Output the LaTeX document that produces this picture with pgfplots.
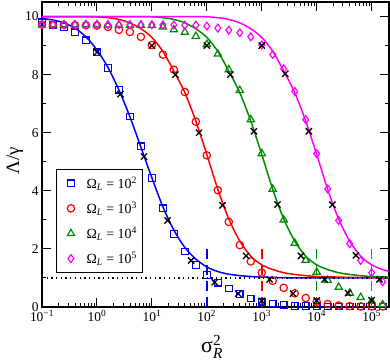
\documentclass[border=0pt]{standalone}
\usepackage{fontspec}
\setmainfont{Liberation Serif}
\usepackage{amsmath}
\usepackage{pgfplots}
\usepackage{pgfplotstable}
\pgfplotsset{compat=1.18}
\definecolor{cblue}{RGB}{0,0,255}
\definecolor{cred}{RGB}{255,0,0}
\definecolor{cgreen}{RGB}{0,140,0}
\definecolor{cmag}{RGB}{255,0,255}

% simulation points: sq = Omega_L 1e2, ci = 1e3, tr = 1e4, di = 1e5
\pgfplotstableread{
x       sq    ci    tr    di
0.1     9.80  9.72  9.72  9.72
0.1585  9.72  9.71  9.72  9.72
0.2512  9.64  9.71  9.72  9.72
0.3981  9.46  9.70  9.72  9.72
0.631   9.18  9.70  9.72  9.72
1       8.77  9.69  9.72  9.72
1.585   8.23  9.64  9.71  9.72
2.512   7.48  9.54  9.71  9.72
3.981   6.56  9.47  9.70  9.72
6.31    5.53  9.30  9.70  9.72
10      4.44  9.02  9.69  9.72
15.85   3.40  8.69  9.64  9.71
25.12   2.52  8.17  9.55  9.71
39.81   1.91  7.40  9.46  9.70
63.1    1.45  6.38  9.32  9.70
100     1.10  5.22  9.04  9.67
158.5   0.84  4.02  8.71  9.60
251.2   0.64  2.93  8.17  9.53
398.1   0.45  2.13  7.46  9.44
631     0.29  1.57  6.45  9.30
1000    0.18  1.18  5.28  9.02
1585    0.12  0.90  4.06  8.69
2512    0.07  0.66  3.00  8.20
3981    0.04  0.47  2.20  7.42
6310    0.03  0.31  1.61  6.45
10000   0.02  0.18  1.20  5.28
15850   0.02  0.10  0.92  4.06
25120   0.02  0.05  0.68  2.98
39810   0.02  0.03  0.48  2.18
63100   0.02  0.02  0.33  1.60
100000  0.02  0.02  0.20  1.18
158500  0.02  0.02  0.08  0.87
}\markers

% theory curves
\pgfplotstableread{
x       b     r     g     m
0.1     9.93  10.0  10.0  10.0
0.1585  9.88  10.0  10.0  10.0
0.2512  9.78  10.0  10.0  10.0
0.3981  9.60  10.0  10.0  10.0
0.631   9.30  10.0  10.0  10.0
1       8.85  9.99  10.0  10.0
1.585   8.25  9.96  10.0  10.0
2.512   7.47  9.90  10.0  10.0
3.981   6.55  9.78  10.0  10.0
6.31    5.50  9.58  10.0  10.0
10      4.45  9.28  9.99  10.0
15.85   3.45  8.80  9.96  10.0
25.12   2.65  8.12  9.90  10.0
39.81   2.05  7.38  9.78  10.0
63.1    1.65  6.40  9.58  10.0
100     1.38  5.25  9.28  9.99
158.5   1.22  4.05  8.80  9.96
251.2   1.13  3.03  8.12  9.90
398.1   1.08  2.27  7.38  9.78
631     1.05  1.75  6.40  9.58
1000    1.03  1.45  5.25  9.28
1585    1.02  1.29  4.05  8.80
2512    1.01  1.18  3.03  8.12
3981    1.00  1.12  2.27  7.38
6310    1.00  1.08  1.75  6.40
10000   1.00  1.05  1.45  5.25
15850   1.00  1.04  1.29  4.05
25120   1.00  1.03  1.18  3.03
39810   1.00  1.02  1.12  2.27
63100   1.00  1.02  1.08  1.75
100000  1.00  1.01  1.05  1.45
158500  1.00  1.01  1.04  1.29
207000  1.00  1.01  1.03  1.23
}\curves

\begin{document}
\begin{tikzpicture}
\useasboundingbox (-42bp,-56bp) rectangle (348bp,307bp);
\begin{axis}[
    at={(0bp,0bp)}, anchor=south west,
    scale only axis,
    width=347bp, height=305bp,
    xmode=log, log basis x=10,
    xmin=0.1, xmax=2.07e5,
    ymin=0, ymax=10.5,
    xtick={0.1,1,10,100,1000,10000,100000},
    xticklabels={10\textsuperscript{−1},10\textsuperscript{0},10\textsuperscript{1},10\textsuperscript{2},10\textsuperscript{3},10\textsuperscript{4},10\textsuperscript{5}},
    minor xtick={0.2,0.3,0.4,0.5,0.6,0.7,0.8,0.9,
                 2,3,4,5,6,7,8,9,
                 20,30,40,50,60,70,80,90,
                 200,300,400,500,600,700,800,900,
                 2000,3000,4000,5000,6000,7000,8000,9000,
                 20000,30000,40000,50000,60000,70000,80000,90000,
                 200000},
    ytick={0,2,4,6,8,10},
    minor ytick={1,3,5,7,9},
    tick align=inside,
    major tick length=9bp,
    minor tick length=4.5bp,
    axis line style={line width=1.3bp},
    every tick/.style={black, line width=1bp},
    /pgf/number format/assume math mode=true,
    tick label style={font=\fontsize{13.5}{15}\selectfont},
    xlabel={\ensuremath{\text{σ}^{\text{2}}_{\textit{R}}}},
    ylabel={Λ/γ},
    every axis x label/.style={at={(axis description cs:0.49,-0.13)}, anchor=center, font=\fontsize{22}{24}\selectfont},
    every axis y label/.style={at={(axis description cs:-0.078,0.48)}, anchor=center, rotate=90, font=\fontsize{19}{22}\selectfont},
    clip=false,
    legend style={at={(axis description cs:0.040,0.452)}, anchor=north west,
        draw=black, line width=1bp, fill=white,
        font=\fontsize{14}{16}\selectfont,
        inner xsep=3bp, inner ysep=5bp, row sep=8bp},
    legend image code/.code={\path (0bp,0bp) (24bp,0bp); \draw[#1] plot coordinates {(11bp,0bp)};},
    legend cell align=left,
]
% theory curves
\addplot[cblue, line width=1.5bp, smooth, forget plot] table[x=x, y=b] {\curves};
\addplot[cred, line width=1.5bp, smooth, forget plot] table[x=x, y=r] {\curves};
\addplot[cgreen, line width=1.5bp, smooth, forget plot] table[x=x, y=g] {\curves};
\addplot[cmag, line width=1.5bp, smooth, forget plot] table[x=x, y=m] {\curves};
% reference levels
\addplot[black, line width=1.3bp, dash pattern=on 1.3bp off 3.4bp, forget plot] coordinates {(0.1,1) (2.07e5,1)};
\addplot[cblue, line width=1.5bp, dash pattern=on 10bp off 6bp, forget plot] coordinates {(100,0) (100,2)};
\addplot[cred, line width=1.5bp, dash pattern=on 10bp off 6bp, forget plot] coordinates {(1000,0) (1000,2)};
\addplot[cgreen, line width=1.5bp, dash pattern=on 10bp off 6bp, forget plot] coordinates {(10000,0) (10000,2)};
\addplot[cmag, line width=1.5bp, dash pattern=on 10bp off 6bp, forget plot] coordinates {(100000,0) (100000,2)};
% simulations
\addplot[only marks, mark=square, mark size=3.3bp, cblue, line width=1.2bp] table[x=x, y=sq] {\markers};
\addplot[only marks, mark=o, mark size=3.7bp, cred, line width=1.2bp] table[x=x, y=ci] {\markers};
\addplot[only marks, mark=triangle, mark size=4.2bp, cgreen, line width=1.2bp] table[x=x, y=tr] {\markers};
\addplot[only marks, mark=diamond, mark size=3.9bp, cmag, line width=1.2bp] table[x=x, y=di] {\markers};
% second set of points
\addplot[only marks, mark=x, mark size=4.4bp, black, line width=1.3bp, forget plot] coordinates {
    (1,8.77) (2.683,7.33) (7.197,5.18) (19.31,2.98) (51.79,1.60) (138.9,0.85) (372.8,0.46) (1000,0.21)};
\addplot[only marks, mark=x, mark size=4.4bp, black, line width=1.3bp, forget plot] coordinates {
    (10,9.0) (26.83,8.0) (71.97,6.0) (193.1,3.5) (517.9,1.76) (1389,0.95) (3728,0.46) (10000,0.22)};
\addplot[only marks, mark=x, mark size=4.4bp, black, line width=1.3bp, forget plot] coordinates {
    (100,9.0) (268.3,8.0) (719.7,6.05) (1931,3.53) (5179,1.76) (13895,0.95) (37276,0.48) (100000,0.23)};
\addplot[only marks, mark=x, mark size=4.4bp, black, line width=1.3bp, forget plot] coordinates {
    (1000,9.0) (2683,8.03) (7197,6.05) (19307,3.52) (51795,1.78) (138950,0.95)};
\legend{Ω\textsubscript{\itshape L} = 10\textsuperscript{2}, Ω\textsubscript{\itshape L} = 10\textsuperscript{3}, Ω\textsubscript{\itshape L} = 10\textsuperscript{4}, Ω\textsubscript{\itshape L} = 10\textsuperscript{5}}
\end{axis}
\end{tikzpicture}
\end{document}
